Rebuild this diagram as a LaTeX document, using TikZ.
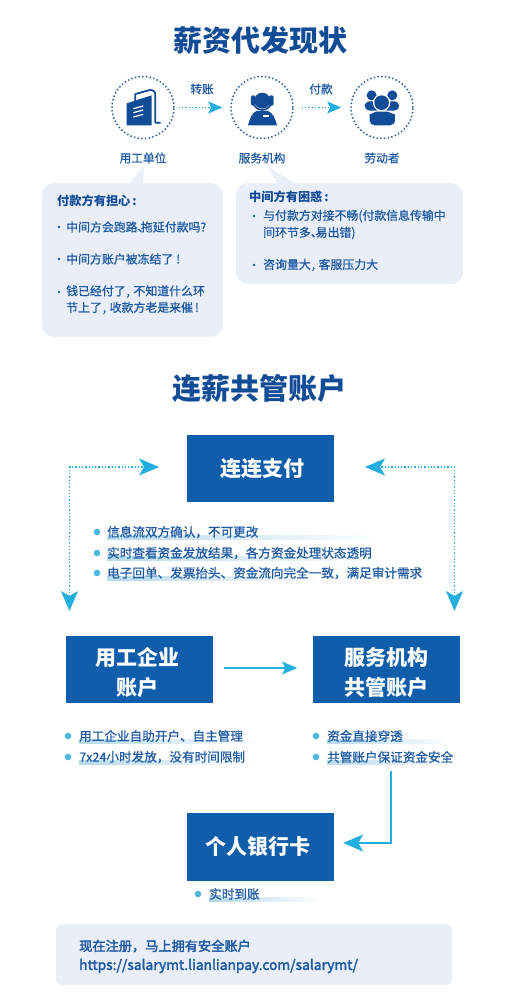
\documentclass[tikz,border=0pt]{standalone}
\usepackage{fontspec}
\setmainfont{Noto Sans CJK SC}
\newfontfamily\cjkmid[FakeBold=2.5]{Noto Sans CJK SC}
\newfontfamily\cjklite[FakeBold=0.8]{Noto Sans CJK SC}
\usetikzlibrary{arrows.meta,calc}
\definecolor{boxblue}{HTML}{0F5DAB}
\definecolor{titleblue}{HTML}{124C97}
\definecolor{txtblue}{HTML}{1F5AA3}
\definecolor{cyanline}{HTML}{22AEDF}
\definecolor{bubble}{HTML}{E9EEF8}
\definecolor{hlcolor}{HTML}{B5DAEC}
\definecolor{bulletc}{HTML}{4BB9DD}
\tikzset{
  sectitle/.style={font=\fontsize{29}{32}\selectfont\bfseries,text=titleblue,inner sep=0pt},
  bluebox/.style={fill=boxblue,text=white,font=\fontsize{21}{28}\selectfont\bfseries,align=center,inner sep=0pt},
  iconlabel/.style={font=\fontsize{11.7}{14}\selectfont\cjklite,text=txtblue,inner sep=0pt},
  bubtitle/.style={font=\fontsize{12.2}{14}\selectfont\bfseries,text=titleblue,inner sep=0pt,anchor=west},
  bubitem/.style={font=\fontsize{11.9}{14}\selectfont\cjklite,text=txtblue,inner sep=0pt,anchor=west},
  listitem/.style={font=\fontsize{12.6}{15}\selectfont\cjklite,text=txtblue,inner sep=0pt,anchor=west},
  smalldot/.style={fill=txtblue,circle,inner sep=0pt,minimum size=2.8pt},
  listdot/.style={fill=bulletc,circle,inner sep=0pt,minimum size=6.6pt},
  ringc/.style={draw=txtblue,line width=1.5pt,dash pattern=on 1.4pt off 2.3pt,circle,inner sep=0pt,minimum size=62pt},
  dotline/.style={draw=cyanline,line width=1.3pt,dash pattern=on 1.3pt off 2pt},
  solidline/.style={draw=cyanline,line width=1.6pt},
  bub/.style={fill=bubble,rounded corners=12pt},
  smallhead/.tip={Stealth[length=14pt,width=12pt,inset=3pt,fill=cyanline]},
  midhead/.tip={Stealth[length=15pt,width=12.5pt,inset=3pt,fill=cyanline]},
  bighead/.tip={Stealth[length=20pt,width=17pt,inset=5pt,fill=cyanline]},
}
\newcommand{\hlbar}[3]{\shade[left color=hlcolor,right color=white] (#1,#3+3.6) rectangle (#2,#3+7.6);}
\newcommand{\cm}{\kern1pt,\kern3.5pt}
\newcommand{\fwc}{\char"FF0C\relax}
\begin{document}
\begin{tikzpicture}[x=1pt,y=-1pt]
\useasboundingbox (0,0) rectangle (508,1001);
\node[sectitle] (t1) at (260.5,40) {薪资代发现状};
\node[ringc] (c1) at (143,107.5) {};
\node[ringc] (c2) at (262,107.5) {};
\node[ringc] (c3) at (382,107.5) {};
% building icon
\begin{scope}[shift={(90,60)},x=0.3333pt,y=-0.3333pt]
  \fill[titleblue] (110,130) -- (185,106) -- (185,196) -- (110,196) -- cycle;
  \draw[titleblue,line width=1.8pt,line join=round] (136,124) -- (136,102) -- (180,90) .. controls (190,90) and (196,95) .. (196,105) -- (196,188) -- (212,188);
  \draw[white,line width=1.2pt] (130,146) -- (160,138) (130,158) -- (160,150) (130,171) -- (160,163);
\end{scope}
% headset person icon
\begin{scope}[shift={(90,60)},x=0.3333pt,y=-0.3333pt]
  \fill[titleblue] (517,122) circle[radius=24];
  \draw[titleblue,line width=1.7pt] (489,122) arc[start angle=180,end angle=0,radius=28];
  \fill[titleblue,rounded corners=2pt] (483,106) rectangle (497,137);
  \fill[titleblue,rounded corners=2pt] (537,106) rectangle (551,137);
  \fill[titleblue] (474,196) .. controls (480,175) and (486,158) .. (500,153) -- (534,153) .. controls (548,158) and (556,175) .. (561,196) -- cycle;
  \fill[white] (519,166) rectangle (536,171);
\end{scope}
% group icon
\begin{scope}[shift={(90,60)},x=0.3333pt,y=-0.3333pt]
  \fill[titleblue] (845,106) circle[radius=15];
  \fill[titleblue] (907,106) circle[radius=15];
  \fill[titleblue,rounded corners=5pt] (824,152) .. controls (824,130) and (835,124) .. (852,124) -- (900,124) .. controls (918,124) and (928,130) .. (928,152) -- cycle;
  \fill[white] (875,128) circle[radius=26];
  \fill[titleblue] (875,128) circle[radius=22];
  \fill[white] (832,197) .. controls (832,165) and (850,150) .. (875,150) .. controls (900,150) and (922,165) .. (922,197) -- cycle;
  \fill[titleblue,rounded corners=5pt] (839,196) -- (839,178) .. controls (839,165) and (855,155) .. (875,155) .. controls (897,155) and (915,165) .. (915,178) -- (915,196) -- cycle;
\end{scope}
\node[iconlabel] (l1) at (143,158) {用工单位};
\node[iconlabel] (l2) at (262,158) {服务机构};
\node[iconlabel] (l3) at (382,158) {劳动者};
\node[iconlabel] (a1l) at (202,89) {转账};
\node[iconlabel] (a2l) at (321,89) {付款};
\coordinate (a1s) at ($(c1.east)+(4,0)$);
\coordinate (a1e) at ($(c2.west)+(-8,0)$);
\coordinate (a2s) at ($(c2.east)+(8,0)$);
\coordinate (a2e) at ($(c3.west)+(-9,0)$);
\draw[dotline,-{smallhead}] (a1s) -- (a1e);
\draw[dotline,-{smallhead}] (a2s) -- (a2e);
% bubbles
\fill[bub] (42,183) rectangle (223,337);
\fill[bubble] (129,184) -- (144,166) -- (143,184) -- cycle;
\fill[bub] (236,183) rectangle (463,284);
\fill[bubble] (278,184) -- (267,166) -- (296,184) -- cycle;
\node[bubtitle] (b1t) at (57,201) {付款方有担心\kern2pt:};
\node[smalldot] (b1d1) at (59,227) {};
\node[bubitem] (b1i1) at (66,227) {中间方会跑路、\kern-8.5pt 拖延付款吗?};
\node[smalldot] (b1d2) at (59,259) {};
\node[bubitem] (b1i2) at (66,259) {中间方账户被冻结了\kern3pt!};
\node[smalldot] (b1d3) at (59,292) {};
\node[bubitem] (b1i3) at (66,291.5) {钱已经付了\cm 不知道什么环};
\node[bubitem] (b1i4) at (66,308) {节上了\cm 收款方老是来催\kern2pt!};
\node[bubtitle] (b2t) at (249,197) {中间方有困惑\kern2pt:};
\node[smalldot] (b2d1) at (254,216) {};
\node[bubitem] (b2i1) at (263,216) {与付款方对接不畅(付款信息传输中};
\node[bubitem] (b2i2) at (263,233) {间环节多、\kern-7pt 易出错)};
\node[smalldot] (b2d2) at (254,265) {};
\node[bubitem] (b2i3) at (263,265) {咨询量大\cm 客服压力大};
% section 2
\node[sectitle] (t2) at (259,389) {连薪共管账户};
\node[bluebox,minimum width=147pt,minimum height=67pt] (pay) at (260.5,468.5) {\kern3.5pt\raisebox{1.5pt}{连连支付}};
\coordinate (pl1) at (159,467);
\coordinate (pl2) at (69.5,611);
\coordinate (pr1) at (365,467);
\coordinate (pr2) at (454.5,611);
\draw[dotline,{bighead}-{bighead}] (pl2) |- (pl1);
\draw[dotline,{bighead}-{bighead}] (pr2) |- (pr1);
% list 1
\hlbar{107}{385}{532}
\hlbar{107}{385}{553}
\hlbar{107}{330}{573}
\node[listdot] (d1) at (97,532) {};
\node[listitem] (i1) at (107,532) {信息流双方确认\fwc 不可更改};
\node[listdot] (d2) at (97,553) {};
\node[listitem] (i2) at (107,553) {实时查看资金发放结果\fwc 各方资金处理状态透明};
\node[listdot] (d3) at (97,573) {};
\node[listitem] (i3) at (107,573) {电子回单、发票抬头、资金流向完全一致\fwc 满足审计需求};
% boxes
\node[bluebox,minimum width=147pt,minimum height=67pt] (emp) at (139.5,669.5) {\rule{0pt}{24.5pt}用工企业\kern5pt\\[1.5pt]账户\kern5pt};
\node[bluebox,minimum width=147pt,minimum height=67pt] (svc) at (386,669.5) {\rule{0pt}{24.5pt}服务机构\\[1.5pt]共管账户};
\coordinate (m1) at ($(emp.east)+(11,-1.5)$);
\coordinate (m2) at ($(svc.west)+(-15,-1.5)$);
\draw[solidline,-{midhead}] (m1) -- (m2);
% list 2
\hlbar{79}{260}{736}
\hlbar{79}{255}{757}
\node[listdot] (d4) at (68,736) {};
\node[listitem] (i4) at (79,736) {用工企业自助开户、自主管理};
\node[listdot] (d5) at (68,757) {};
\node[listitem] (i5) at (79,757) {7x24小时发放\fwc 没有时间限制};
\hlbar{327}{452}{736}
\hlbar{327}{452}{757}
\node[listdot] (d6) at (316,736) {};
\node[listitem] (i6) at (327,736) {资金直接穿透};
\node[listdot] (d7) at (316,757) {};
\node[listitem] (i7) at (327,757) {共管账户保证资金安全};
% bank
\node[bluebox,minimum width=147pt,minimum height=68pt] (bank) at (260.5,847) {个人银行卡\kern6pt};
\coordinate (q1) at (391,771);
\coordinate (q2) at ($(bank.east)+(9,-4)$);
\draw[solidline,-{bighead}] (q1) |- (q2);
\hlbar{209}{323}{894}
\node[listdot] (d8) at (198,894) {};
\node[listitem] (i8) at (209,894) {实时到账};
% footer
\fill[bubble,rounded corners=6pt] (56,924) rectangle (452,985);
\node[inner sep=0pt,anchor=west,text=txtblue,font=\fontsize{13.2}{16}\selectfont\cjkmid] (f1) at (79,946) {现在注册\fwc 马上拥有安全账户};
\node[inner sep=0pt,anchor=west,text=txtblue,font=\fontsize{13.8}{16}\selectfont\cjkmid] (f2) at (79,966) {https://salarymt.lianlianpay.com/salarymt/};
\end{tikzpicture}
\end{document}
